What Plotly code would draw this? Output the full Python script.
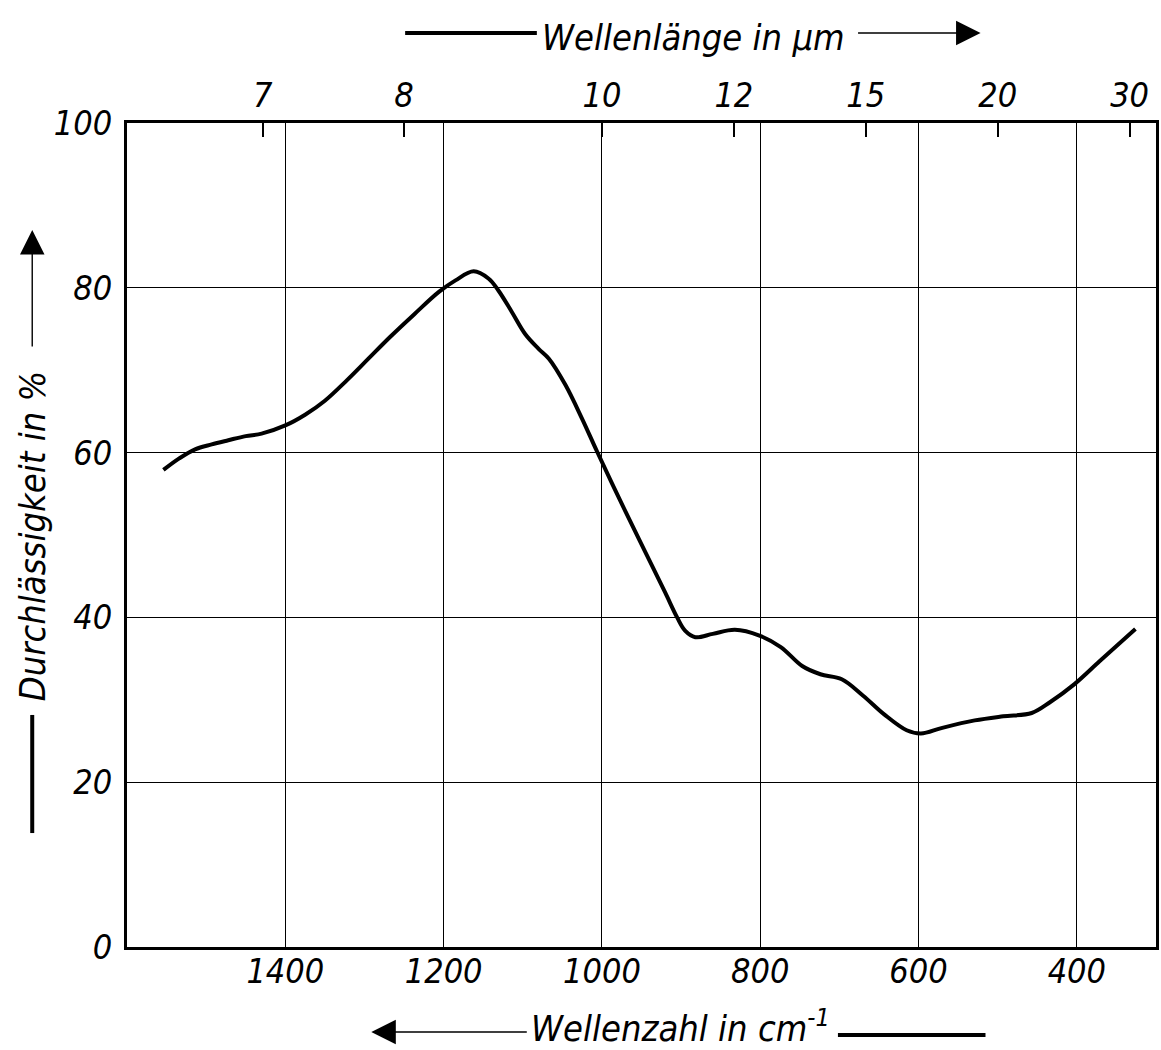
import plotly.graph_objects as go

# Transmission spectrum: wavenumber (cm^-1) vs. transmittance (%)
wavenumber = [1554, 1534, 1514, 1493, 1472, 1450, 1430, 1400, 1375, 1350,
              1322, 1295, 1268, 1237, 1206, 1185, 1162, 1143, 1131, 1114,
              1097, 1080, 1067, 1046, 1025, 1006, 970, 945, 920,
              905, 895, 882, 860, 832, 801, 774, 747, 724, 697,
              670, 643, 615, 597, 570, 529, 493, 457, 434, 403, 371, 326]
transmission = [57.9, 59.3, 60.4, 61.0, 61.5, 62.0, 62.3, 63.3, 64.6, 66.3,
                68.8, 71.4, 74.0, 76.8, 79.5, 80.9, 82.0, 81.1, 79.7, 77.1,
                74.4, 72.6, 71.4, 68.2, 64.1, 60.1, 52.8, 47.9, 43.0,
                40.0, 38.4, 37.6, 38.0, 38.5, 37.8, 36.4, 34.1, 33.1, 32.5,
                30.5, 28.2, 26.3, 25.9, 26.6, 27.5, 28.0, 28.4, 29.7, 31.9, 34.7, 38.6]

# Axis ticks
wavenumber_ticks = [1400, 1200, 1000, 800, 600, 400]
wavelength_labels = [7, 8, 10, 12, 15, 20, 30]          # micrometres
percent_ticks = [0, 20, 40, 60, 80, 100]

X_RANGE = [1600, 300]
FONT = "DejaVu Sans Condensed, Liberation Sans Narrow, DejaVu Sans, sans-serif"
tick_font = dict(family=FONT, size=34, color="black", style="italic")
title_font = dict(family=FONT, size=36, color="black", style="italic")

fig = go.Figure()
fig.add_trace(go.Scatter(
    x=wavenumber, y=transmission, mode="lines",
    line=dict(color="black", width=4, shape="spline", smoothing=1.0),
    showlegend=False, hoverinfo="skip",
))

# The wavelength scale on top shares the wavenumber axis (lambda = 10^4 / nu)
fig.add_trace(go.Scatter(x=[], y=[], xaxis="x2", showlegend=False))

fig.update_layout(
    width=1161, height=1050,
    margin=dict(l=127, r=2, t=123, b=103),
    paper_bgcolor="white", plot_bgcolor="white",
    xaxis=dict(
        range=X_RANGE, tickvals=wavenumber_ticks,
        ticktext=[str(v) for v in wavenumber_ticks],
        showgrid=True, gridcolor="black", gridwidth=1,
        showline=True, linecolor="black", linewidth=3, mirror=True,
        ticks="", tickfont=tick_font, ticklabelstandoff=-8,
        zeroline=False,
    ),
    xaxis2=dict(
        range=X_RANGE, overlaying="x", side="top", anchor="y",
        tickvals=[1e4 / w for w in wavelength_labels],
        ticktext=[str(w) for w in wavelength_labels],
        ticks="inside", ticklen=14, tickwidth=2, tickcolor="black",
        showgrid=False, showline=False, zeroline=False,
        tickfont=tick_font, ticklabelstandoff=8,
    ),
    yaxis=dict(
        range=[0, 100], tickvals=percent_ticks,
        showgrid=True, gridcolor="black", gridwidth=1,
        showline=True, linecolor="black", linewidth=3, mirror=True,
        ticks="", tickfont=tick_font, ticklabelstandoff=5,
        zeroline=False,
    ),
)

# Axis captions with direction arrows (paper coordinates)
fig.add_annotation(text="Wellenlänge in µm", xref="paper", yref="paper",
                   x=0.5504, y=1.1032, showarrow=False, font=title_font,
                   xanchor="center", yanchor="middle")
fig.add_annotation(text="Wellenzahl in cm<sup>-1</sup>", xref="paper", yref="paper",
                   x=0.5378, y=-0.0960, showarrow=False, font=title_font,
                   xanchor="center", yanchor="middle")
fig.add_annotation(text="Durchlässigkeit in %", xref="paper", yref="paper",
                   x=-0.0911, y=0.4988, showarrow=False, font=title_font,
                   textangle=-90, xanchor="center", yanchor="middle")

# thick tails
fig.add_shape(type="line", xref="paper", yref="paper",
              x0=0.2703, x1=0.3983, y0=1.1092, y1=1.1092,
              line=dict(color="black", width=4))
fig.add_shape(type="line", xref="paper", yref="paper",
              x0=0.6909, x1=0.8343, y0=-0.1068, y1=-0.1068,
              line=dict(color="black", width=4))
fig.add_shape(type="line", xref="paper", yref="paper",
              x0=-0.0921, x1=-0.0921, y0=0.1383, y1=0.2816,
              line=dict(color="black", width=4))

# arrow heads
arrow = dict(showarrow=True, arrowhead=2, arrowsize=3.5, arrowwidth=1.4,
             arrowcolor="black", text="", xref="paper", yref="paper")
fig.add_annotation(x=0.8295, y=1.1092, ax=-124, ay=0, **arrow)
fig.add_annotation(x=0.2374, y=-0.1032, ax=157, ay=0, **arrow)
fig.add_annotation(x=-0.0921, y=0.8701, ax=0, ay=118, **arrow)

fig.write_html("out.html")
